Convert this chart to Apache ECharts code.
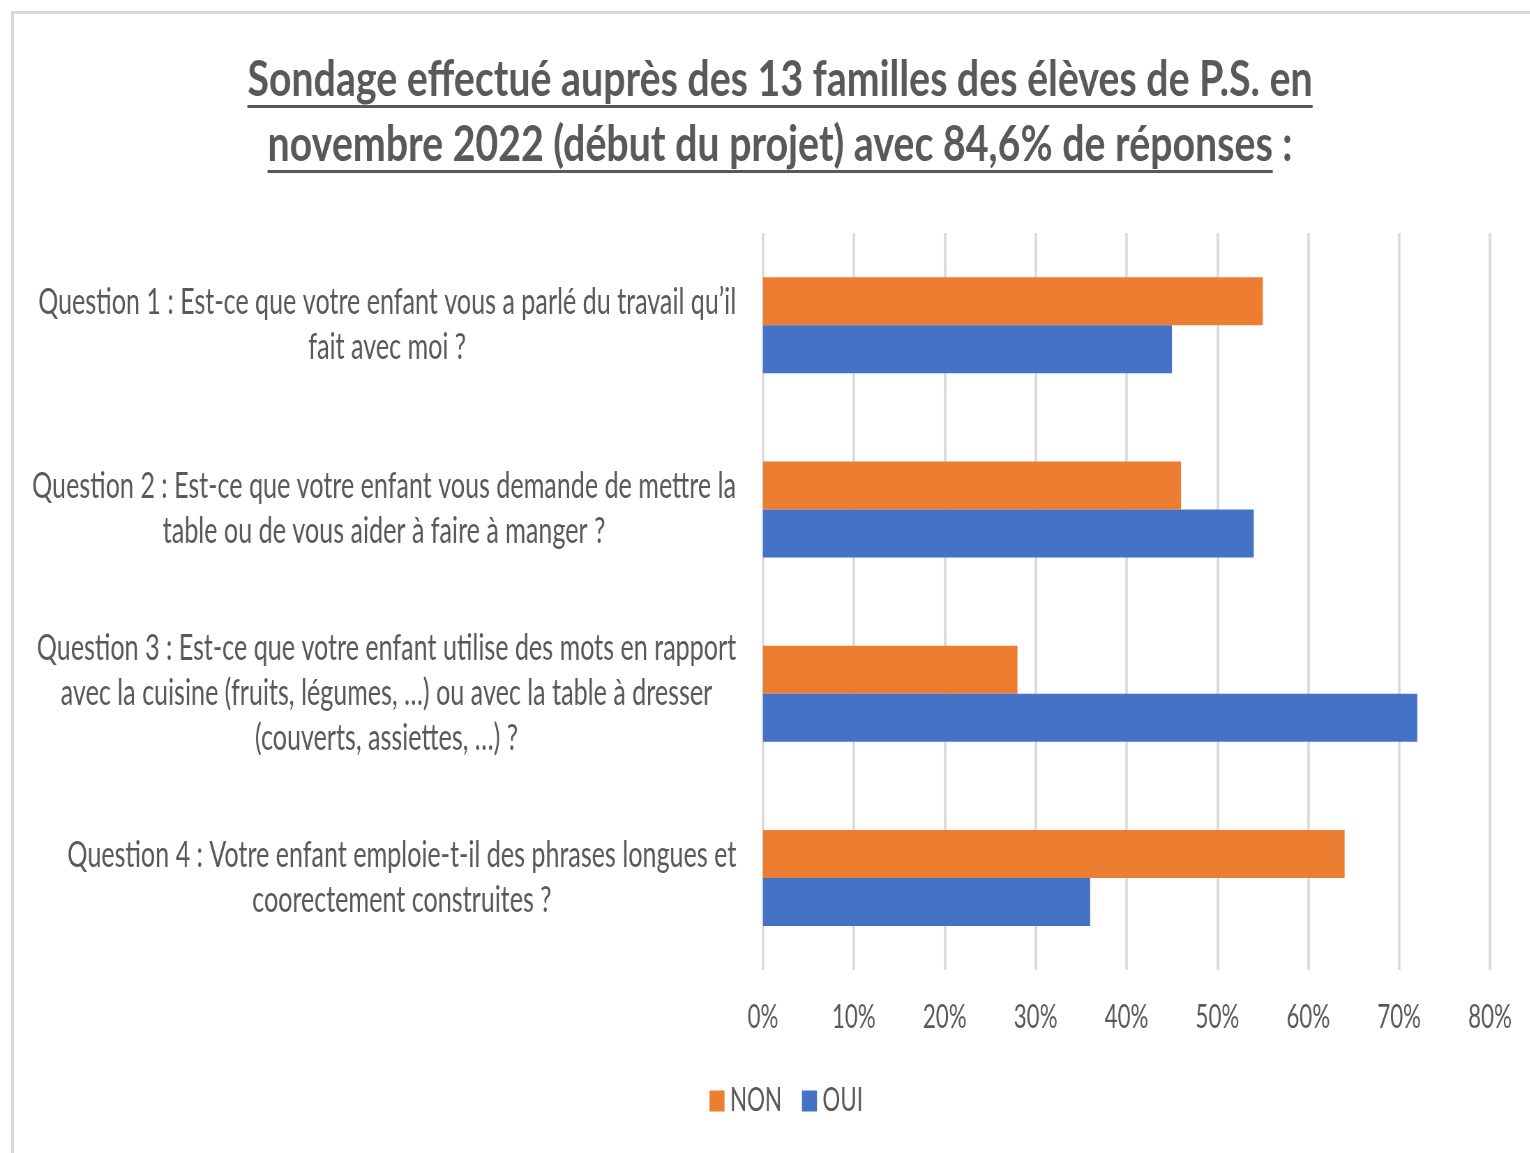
<!DOCTYPE html>
<html>
<head>
<meta charset="utf-8">
<script src="https://cdn.jsdelivr.net/npm/echarts@6/dist/echarts.min.js"></script>
<style>
  html, body { margin: 0; padding: 0; background: #fff; overflow: hidden; }
  #frame { width: 1530px; height: 1153px; overflow: hidden; position: relative; background: #fff; }
  #chart { position: absolute; left: 0; top: 0; height: 1153px; transform-origin: 0 0; }
</style>
</head>
<body>
<div id="frame"><div id="chart"></div></div>
<script>
// ---- data ----
const titleLine1 = 'Sondage effectué auprès des 13 familles des élèves de P.S. en';
const titleLine2 = 'novembre 2022 (début du projet) avec 84,6% de réponses';
const titleSuffix = ' :';

const questions = [
  'Question 1 : Est-ce que votre enfant vous a parlé du travail qu’il\nfait avec moi ?',
  'Question 2 : Est-ce que votre enfant vous demande de mettre la\ntable ou de vous aider à faire à manger ?',
  'Question 3 : Est-ce que votre enfant utilise des mots en rapport\navec la cuisine (fruits, légumes, …) ou avec la table à dresser\n(couverts, assiettes, …) ?',
  'Question 4 : Votre enfant emploie-t-il des phrases longues et\ncoorectement construites ?'
];
const seriesNames = ['NON', 'OUI'];
const nonValues = [0.55, 0.46, 0.28, 0.64];
const ouiValues = [0.45, 0.54, 0.72, 0.36];
const seriesColors = ['#ED7D31', '#4472C4'];

// ---- condensed text: the canvas is drawn wide and squeezed horizontally ----
const FONT = 'Lato, "Open Sans", sans-serif';
const TEXT = '#595959';
const LABEL_SIZE = 36;
const ctx = document.createElement('canvas').getContext('2d');
function textW(str, size, weight) {
  ctx.font = (weight || 'normal') + ' ' + size + 'px ' + FONT;
  return ctx.measureText(str).width;
}
let S = 698 / textW(questions[0].split('\n')[0], LABEL_SIZE);
if (!(S > 0.3 && S < 1)) S = 0.66;
const W = Math.ceil(1530 / S);
const X = v => v / S;   // page px -> chart px along x

const chartEl = document.getElementById('chart');
chartEl.style.width = W + 'px';
chartEl.style.transform = 'scaleX(' + S + ')';

const chart = echarts.init(chartEl, null, { renderer: 'canvas' });

// title with underline (title type is a bit wider than the body type)
const TSIZE = 49;
const TSCALE = 1.15;
const tCx = X(780);
const w1 = textW(titleLine1, TSIZE, 'bold') * TSCALE;
const wFull2 = textW(titleLine2 + titleSuffix, TSIZE, 'bold') * TSCALE;
const wPart2 = textW(titleLine2, TSIZE, 'bold') * TSCALE;
const titleFont = 'bold ' + TSIZE + 'px ' + FONT;

// category labels: block right-aligned to the axis, lines centred inside the block
const labelRich = {};
questions.forEach((q, i) => {
  const bw = Math.max(...q.split('\n').map(l => textW(l, LABEL_SIZE)));
  labelRich['q' + i] = {
    width: Math.ceil(bw) + 2, align: 'center',
    fontFamily: FONT, fontSize: LABEL_SIZE, color: TEXT, lineHeight: 45
  };
});

const option = {
  backgroundColor: '#ffffff',
  animation: false,
  graphic: [
    { type: 'rect', shape: { x: X(11), y: 11, width: X(3), height: 1300 }, style: { fill: '#d9d9d9' } },
    { type: 'rect', shape: { x: X(11), y: 11, width: X(1600), height: 3 }, style: { fill: '#d9d9d9' } },
    { type: 'text', x: tCx, y: 80, scaleX: TSCALE, style: { text: titleLine1, font: titleFont, fill: TEXT, align: 'center', verticalAlign: 'middle' } },
    { type: 'rect', shape: { x: tCx - w1 / 2, y: 105, width: w1, height: 3 }, style: { fill: TEXT } },
    { type: 'text', x: tCx, y: 145, scaleX: TSCALE, style: { text: titleLine2 + titleSuffix, font: titleFont, fill: TEXT, align: 'center', verticalAlign: 'middle' } },
    { type: 'rect', shape: { x: tCx - wFull2 / 2, y: 170, width: wPart2, height: 3 }, style: { fill: TEXT } }
  ],
  legend: {
    data: seriesNames,
    left: X(706),
    top: 1080,
    icon: 'rect',
    itemWidth: X(15),
    itemHeight: 21,
    itemGap: X(20),
    textStyle: { fontFamily: FONT, fontSize: 32, color: TEXT, padding: [0, 0, 0, X(2)] }
  },
  grid: { left: X(763), top: 233, width: X(727), height: 737, containLabel: false },
  xAxis: {
    type: 'value',
    min: 0,
    max: 0.8,
    interval: 0.1,
    axisLine: { show: false },
    axisTick: { show: false },
    splitLine: { show: true, lineStyle: { color: '#d9d9d9', width: 3.5 } },
    axisLabel: {
      fontFamily: FONT, fontSize: 32, color: TEXT, margin: 32,
      formatter: v => Math.round(v * 100) + '%'
    }
  },
  yAxis: {
    type: 'category',
    inverse: true,
    data: questions,
    axisLine: { show: false },
    axisTick: { show: false },
    axisLabel: {
      fontFamily: FONT, fontSize: LABEL_SIZE, color: TEXT, lineHeight: 45,
      align: 'right', margin: X(26),
      rich: labelRich,
      formatter: (value, idx) => value.split('\n').map(l => '{q' + idx + '|' + l + '}').join('\n')
    }
  },
  series: [
    { name: seriesNames[0], type: 'bar', data: nonValues, barWidth: 48, barGap: '0%', itemStyle: { color: seriesColors[0] } },
    { name: seriesNames[1], type: 'bar', data: ouiValues, barWidth: 48, barGap: '0%', itemStyle: { color: seriesColors[1] } }
  ]
};
chart.setOption(option);
</script>
</body>
</html>
